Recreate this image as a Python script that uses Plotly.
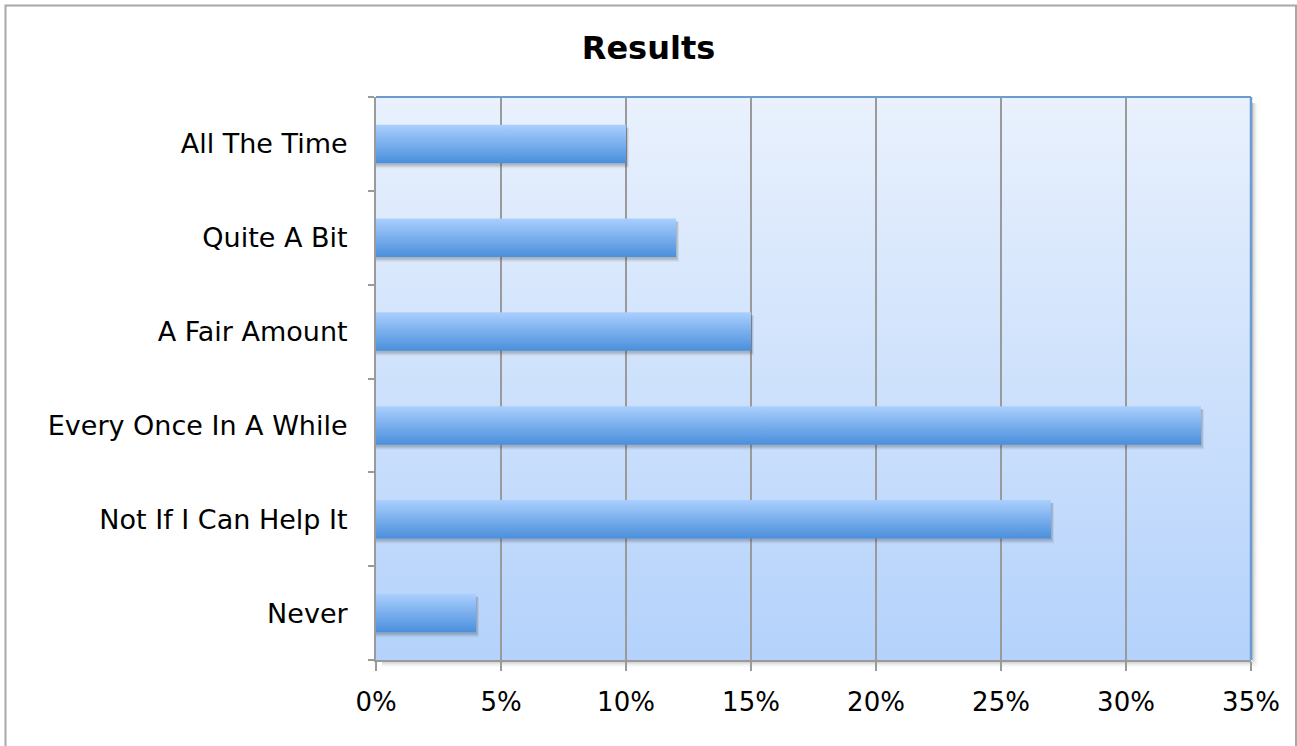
import base64
import plotly.graph_objects as go

# ---- data ----
categories = ["All The Time", "Quite A Bit", "A Fair Amount",
              "Every Once In A While", "Not If I Can Help It", "Never"]
values = [10, 12, 15, 33, 27, 4]          # percent
x_ticks = [0, 5, 10, 15, 20, 25, 30, 35]
x_tick_labels = [f"{v}%" for v in x_ticks]
title_text = "Results"

# ---- layout geometry (pixels) ----
W, H = 1297, 746
L, R, T, B = 376, 46, 97, 86
PW, PH = W - L - R, H - T - B
FONT = "DejaVu Sans"

n = len(categories)
ypos = [n - 1 - i for i in range(n)]     # top category drawn at top
half = 0.205
px_x = 35 / PW                            # one pixel in x data units
px_y = n / PH                             # one pixel in y data units

BAR_TOP = "#aacffe"
BAR_BOT = "#4a8fdc"

fig = go.Figure()

# bar shadows (soft, mostly below the bar)
for v, y in zip(values, ypos):
    for k, a in [(5, 0.05), (4, 0.07), (3, 0.09), (2, 0.11)]:
        xs = [0, v + k * px_x * 0.6, v + k * px_x * 0.6, 0]
        ys = [y - half - k * px_y, y - half - k * px_y, y + half - 3 * px_y, y + half - 3 * px_y]
        fig.add_trace(go.Scatter(x=xs + [xs[0]], y=ys + [ys[0]], mode="lines",
                                 line=dict(width=0), fill="toself",
                                 fillcolor=f"rgba(60,60,60,{a})",
                                 hoverinfo="skip", showlegend=False))

# bars with vertical gradient
for c, v, y in zip(categories, values, ypos):
    xs = [0, v, v, 0, 0]
    ys = [y - half, y - half, y + half, y + half, y - half]
    fig.add_trace(go.Scatter(x=xs, y=ys, mode="lines", line=dict(width=0),
                             fill="toself",
                             fillgradient=dict(type="vertical",
                                               colorscale=[[0, BAR_BOT], [1, BAR_TOP]]),
                             name=c, hovertemplate=f"{c}: {v}%<extra></extra>",
                             showlegend=False))

# background gradient image for plot area
svg = ('<svg xmlns="http://www.w3.org/2000/svg" width="100" height="100" preserveAspectRatio="none">'
       '<defs><linearGradient id="g" x1="0" y1="0" x2="0" y2="1">'
       '<stop offset="0" stop-color="#e9f1fd"/><stop offset="1" stop-color="#b4d2fb"/>'
       '</linearGradient></defs><rect width="100" height="100" fill="url(#g)"/></svg>')
src = "data:image/svg+xml;base64," + base64.b64encode(svg.encode()).decode()
fig.add_layout_image(dict(source=src, xref="paper", yref="paper", x=0, y=1,
                          sizex=1, sizey=1, sizing="stretch", layer="below",
                          xanchor="left", yanchor="top"))


def px2paper_x(p):
    return (p - L) / PW


def px2paper_y(p):
    return (H - B - p) / PH


shapes = []
# plot area drop shadow (right and bottom)
for i, a in enumerate([0.35, 0.25, 0.17, 0.11, 0.06, 0.03]):
    shapes.append(dict(type="rect", xref="paper", yref="paper",
                       x0=px2paper_x(W - R + 1 + i), x1=px2paper_x(W - R + 2 + i),
                       y0=px2paper_y(H - B + 1 + i), y1=px2paper_y(T + 6),
                       line=dict(width=0), fillcolor=f"rgba(90,90,90,{a})", layer="below"))
    shapes.append(dict(type="rect", xref="paper", yref="paper",
                       x0=px2paper_x(L + 6), x1=px2paper_x(W - R + 1 + i),
                       y0=px2paper_y(H - B + 2 + i), y1=px2paper_y(H - B + 1 + i),
                       line=dict(width=0), fillcolor=f"rgba(90,90,90,{a})", layer="below"))
# blue top & right border
shapes.append(dict(type="line", xref="paper", yref="paper", x0=0, x1=1, y0=1, y1=1,
                   line=dict(color="#6c9bd2", width=2), layer="above"))
shapes.append(dict(type="line", xref="paper", yref="paper", x0=1, x1=1, y0=0, y1=1,
                   line=dict(color="#6c9bd2", width=2.5), layer="above"))
# outer chart border
shapes.append(dict(type="rect", xref="paper", yref="paper",
                   x0=px2paper_x(5.5), x1=px2paper_x(1296), y0=px2paper_y(5.5), y1=px2paper_y(760),
                   line=dict(color="#a8a8a8", width=2), fillcolor="rgba(0,0,0,0)", layer="above"))

fig.update_layout(
    width=W, height=H,
    margin=dict(l=L, r=R, t=T, b=B, pad=0),
    paper_bgcolor="white",
    plot_bgcolor="rgba(0,0,0,0)",
    font=dict(family=FONT, size=27, color="#000000"),
    title=dict(text=f"<b>{title_text}</b>", x=0.5, xanchor="center",
               xref="container", y=1 - 48 / H, yanchor="middle",
               font=dict(family=FONT, size=32, color="#000000")),
    shapes=shapes,
    showlegend=False,
)

fig.update_xaxes(range=[0, 35], tickvals=x_ticks, ticktext=x_tick_labels,
                 showgrid=True, gridcolor="#9a9a9a", gridwidth=1.5,
                 showline=True, linecolor="#9a9a9a", linewidth=2,
                 ticks="outside", ticklen=9, tickcolor="#9a9a9a", tickwidth=1.5,
                 ticklabelstandoff=9,
                 zeroline=False, tickfont=dict(size=26, family=FONT),
                 fixedrange=True)
fig.update_yaxes(range=[-0.5, n - 0.5], tickvals=ypos, ticktext=categories,
                 showgrid=False, zeroline=False,
                 showline=True, linecolor="#9a9a9a", linewidth=2,
                 ticks="", ticklabelstandoff=21,
                 minor=dict(tickvals=[k - 0.5 for k in range(n + 1)], ticks="outside",
                            ticklen=6, tickcolor="#9a9a9a", tickwidth=1.5, showgrid=False),
                 tickfont=dict(size=27, family=FONT), fixedrange=True)

fig.write_html("out.html")
